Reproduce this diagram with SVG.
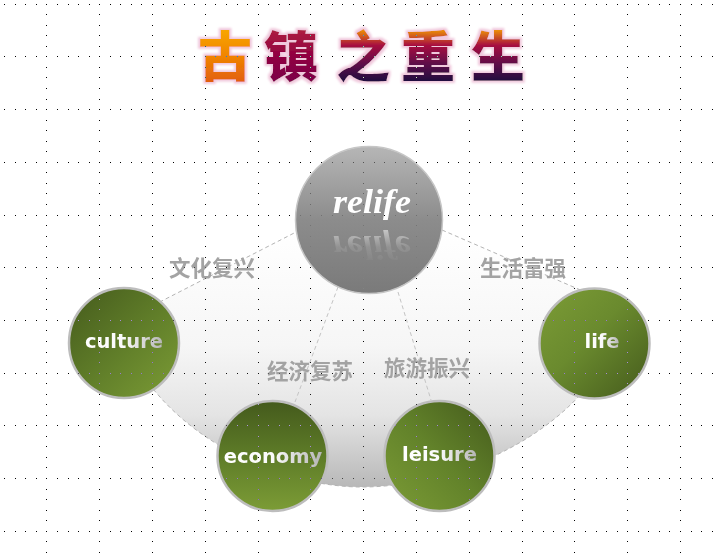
<svg xmlns="http://www.w3.org/2000/svg" width="713" height="559" viewBox="0 0 713 559">
<defs>
<linearGradient id="tg1" gradientUnits="userSpaceOnUse" x1="0" y1="28" x2="0" y2="85">
<stop offset="0" stop-color="#f9a800"/>
<stop offset="0.5" stop-color="#f08400"/>
<stop offset="1" stop-color="#e05a10"/>
</linearGradient>
<linearGradient id="tg2" gradientUnits="userSpaceOnUse" x1="0" y1="28" x2="0" y2="85">
<stop offset="0" stop-color="#b02040"/>
<stop offset="0.5" stop-color="#900042"/>
<stop offset="1" stop-color="#7a0048"/>
</linearGradient>
<linearGradient id="tg3" gradientUnits="userSpaceOnUse" x1="0" y1="28" x2="0" y2="85">
<stop offset="0" stop-color="#f5a000"/>
<stop offset="0.3" stop-color="#a81040"/>
<stop offset="0.65" stop-color="#5a0848"/>
<stop offset="1" stop-color="#14083e"/>
</linearGradient>
<filter id="glow" x="-10%" y="-10%" width="120%" height="130%">
<feMorphology in="SourceAlpha" operator="dilate" radius="1.5" result="d"/>
<feGaussianBlur in="d" stdDeviation="1.2" result="b"/>
<feFlood flood-color="#f0c8dc"/>
<feComposite in2="b" operator="in" result="g"/>
<feMerge><feMergeNode in="g"/><feMergeNode in="SourceGraphic"/></feMerge>
</filter>
<linearGradient id="backGrad" x1="0" y1="0" x2="0" y2="1">
<stop offset="0" stop-color="#ffffff"/>
<stop offset="0.45" stop-color="#f6f6f6"/>
<stop offset="0.72" stop-color="#e4e4e4"/>
<stop offset="1" stop-color="#b8b8b8"/>
</linearGradient>
<linearGradient id="grayGrad" x1="0" y1="0" x2="0" y2="1">
<stop offset="0" stop-color="#b6b6b6"/>
<stop offset="0.5" stop-color="#8c8c8c"/>
<stop offset="1" stop-color="#7a7a7a"/>
</linearGradient>
<linearGradient id="gDarkTL" x1="0" y1="0" x2="1" y2="1">
<stop offset="0" stop-color="#445a1c"/>
<stop offset="0.55" stop-color="#62802a"/>
<stop offset="1" stop-color="#7c9c36"/>
</linearGradient>
<linearGradient id="gDarkBR" x1="0" y1="0" x2="1" y2="1">
<stop offset="0" stop-color="#7c9c36"/>
<stop offset="0.45" stop-color="#6a8a2e"/>
<stop offset="1" stop-color="#445a1c"/>
</linearGradient>
<linearGradient id="gDarkTop" x1="0" y1="0" x2="0" y2="1">
<stop offset="0" stop-color="#445a1c"/>
<stop offset="0.5" stop-color="#5e7c28"/>
<stop offset="1" stop-color="#7c9c36"/>
</linearGradient>
<linearGradient id="gDarkTR" x1="1" y1="0" x2="0" y2="1">
<stop offset="0" stop-color="#445a1c"/>
<stop offset="0.5" stop-color="#62822a"/>
<stop offset="1" stop-color="#7c9c36"/>
</linearGradient>
<linearGradient id="txtGrad" x1="0" y1="0" x2="1" y2="0">
<stop offset="0" stop-color="#ffffff"/>
<stop offset="0.5" stop-color="#fafafa"/>
<stop offset="1" stop-color="#b4b4b4"/>
</linearGradient>
<linearGradient id="reflGrad" x1="0" y1="0" x2="0" y2="1">
<stop offset="0" stop-color="#c8c8c8" stop-opacity="0"/>
<stop offset="0.5" stop-color="#c8c8c8" stop-opacity="0.2"/>
<stop offset="1" stop-color="#d0d0d0" stop-opacity="0.9"/>
</linearGradient>
<clipPath id="reflClip"><rect x="300" y="230" width="140" height="30"/></clipPath>
<style>
.tt{font-family:"Noto Sans CJK SC",sans-serif;font-weight:900;font-size:54px}
.ring{stroke:#bdbdbd;stroke-width:2.5}
.lbl{font-family:"Noto Sans CJK SC","Noto Sans",sans-serif;font-weight:bold;font-size:21.5px;fill:#a3a3a3;text-anchor:middle}
.ntxt{font-family:"DejaVu Sans",Verdana,sans-serif;font-weight:bold;font-size:19.5px;fill:url(#txtGrad);text-anchor:middle}
.rl{font-family:"Liberation Serif",serif;font-weight:bold;font-style:italic;font-size:33px;text-anchor:middle}
.dash{stroke:#b4b4b4;stroke-width:1;stroke-dasharray:4 3}
.conn{fill:none;stroke:#c4c4c4;stroke-width:1;stroke-dasharray:4 3}
.grid line{stroke:#ffffff;stroke-width:1;shape-rendering:crispEdges}
.hrow{stroke-dasharray:1 10 1 9 1 10 1 9 1 10 1 10 1 9 1 10 1 9 1 10 1 9 1 10 1 9 1 10 1 10 1 9 1 10 1 9 1 10 1 9 1 10 1 10 1 9 1 10 1 9}
.vcol{stroke-dasharray:1 9 1 10 1 9 1 10 1 9 1 10 1 9 1 10 1 10 1 9 1 10 1 9 1 10 1 9 1 10 1 9 1 10 1 9 1 10 1 10 1 9 1 10 1 9 1 10 1 9 1 10 1 9 1 10 1 9 1 10 1 9 1 10 1 10 1 9 1 10 1 9 1 10 1 9 1 10 1 9 1 10 1 9 1 10 1 9 1 10 1 10 1 9 1 10 1 9 1 10 1 9 1 10 1 400}
</style>
</defs>
<rect width="713" height="559" fill="#ffffff"/>

<g id="title" filter="url(#glow)">
<text class="tt" x="198" y="77" fill="url(#tg1)">古</text>
<text class="tt" x="264" y="77" fill="url(#tg2)">镇</text>
<text class="tt" x="336" y="77" fill="url(#tg3)">之</text>
<text class="tt" x="401" y="77" fill="url(#tg3)">重</text>
<text class="tt" x="471" y="77" fill="url(#tg3)">生</text>
</g>

<g id="backdrop">
<path d="M300,230 L150,307 L150,385 C200,450 290,487 362,487 C440,487 530,450 580,395 L585,292 L442,230 Z" fill="url(#backGrad)" class="dash"/>
</g>

<g id="connectors">
<line x1="338" y1="287" x2="295" y2="402" class="conn"/>
<line x1="398" y1="292" x2="431" y2="400" class="conn"/>
</g>

<g id="labels">
<text class="lbl" x="212" y="276">文化复兴</text>
<text class="lbl" x="523" y="276">生活富强</text>
<text class="lbl" x="310" y="379">经济复苏</text>
<text class="lbl" x="427" y="376">旅游振兴</text>
</g>

<g id="relife">
<circle cx="369" cy="220" r="73.5" fill="url(#grayGrad)" stroke="#c6c6c6" stroke-width="1.5"/>
<text class="rl" x="372" y="213" textLength="78" lengthAdjust="spacingAndGlyphs" fill="#ffffff">relife</text>
<g clip-path="url(#reflClip)">
<text class="rl" transform="translate(0,449) scale(1,-1)" x="372" y="213" textLength="78" lengthAdjust="spacingAndGlyphs" fill="url(#reflGrad)">relife</text>
</g>
</g>

<g id="culture">
<circle cx="124" cy="343" r="55" fill="url(#gDarkTL)" class="ring"/>
<text class="ntxt" x="124" y="348">culture</text>
</g>

<g id="life">
<circle cx="594.5" cy="343.5" r="55" fill="url(#gDarkBR)" class="ring"/>
<text class="ntxt" x="602" y="348">life</text>
</g>

<g id="economy">
<circle cx="272.5" cy="456" r="55" fill="url(#gDarkTop)" class="ring"/>
<text class="ntxt" x="273" y="463">economy</text>
</g>

<g id="leisure">
<circle cx="439.5" cy="456" r="55" fill="url(#gDarkTR)" class="ring"/>
<text class="ntxt" x="439.5" y="461">leisure</text>
</g>

<g class="grid" style="mix-blend-mode:difference">
<g class="hrow">
<line x1="4" y1="4.5" x2="713" y2="4.5"/>
<line x1="4" y1="56.5" x2="713" y2="56.5"/>
<line x1="4" y1="109.5" x2="713" y2="109.5"/>
<line x1="4" y1="162.5" x2="713" y2="162.5"/>
<line x1="4" y1="215.5" x2="713" y2="215.5"/>
<line x1="4" y1="267.5" x2="713" y2="267.5"/>
<line x1="4" y1="320.5" x2="713" y2="320.5"/>
<line x1="4" y1="373.5" x2="713" y2="373.5"/>
<line x1="4" y1="425.5" x2="713" y2="425.5"/>
<line x1="4" y1="478.5" x2="713" y2="478.5"/>
<line x1="4" y1="531.5" x2="713" y2="531.5"/>
</g>
<g class="vcol">
<line x1="46.5" y1="4" x2="46.5" y2="559"/>
<line x1="99.5" y1="4" x2="99.5" y2="559"/>
<line x1="152.5" y1="4" x2="152.5" y2="559"/>
<line x1="205.5" y1="4" x2="205.5" y2="559"/>
<line x1="258.5" y1="4" x2="258.5" y2="559"/>
<line x1="310.5" y1="4" x2="310.5" y2="559"/>
<line x1="363.5" y1="4" x2="363.5" y2="559"/>
<line x1="416.5" y1="4" x2="416.5" y2="559"/>
<line x1="469.5" y1="4" x2="469.5" y2="559"/>
<line x1="522.5" y1="4" x2="522.5" y2="559"/>
<line x1="574.5" y1="4" x2="574.5" y2="559"/>
<line x1="627.5" y1="4" x2="627.5" y2="559"/>
<line x1="680.5" y1="4" x2="680.5" y2="559"/>
</g>
</g>
</svg>
